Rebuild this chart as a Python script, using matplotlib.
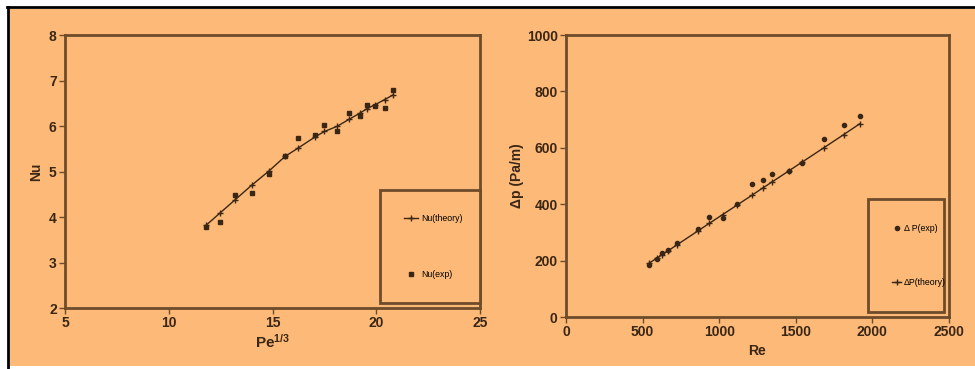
import matplotlib.pyplot as plt
from matplotlib.patches import Rectangle
from matplotlib.lines import Line2D

# Nu vs Pe^(1/3)
pe13 = [11.8, 12.45, 13.2, 14.0, 14.85, 15.6, 16.25, 17.05, 17.5, 18.1, 18.7, 19.2, 19.55, 19.95, 20.4, 20.8]
nu_theory = [3.82, 4.08, 4.38, 4.70, 5.02, 5.33, 5.52, 5.76, 5.88, 5.99, 6.15, 6.28, 6.38, 6.47, 6.58, 6.68]
nu_exp = [3.78, 3.90, 4.49, 4.53, 4.95, 5.34, 5.74, 5.80, 6.02, 5.90, 6.28, 6.22, 6.46, 6.44, 6.40, 6.80]

# pressure drop vs Re
re = [543, 591, 624, 667, 722, 863, 935, 1022, 1117, 1217, 1283, 1348, 1457, 1543, 1683, 1813, 1917]
dp_theory = [191, 208, 220, 235, 255, 306, 332, 363, 397, 433, 457, 480, 519, 550, 600, 647, 685]
dp_exp = [185, 205, 228, 236, 262, 312, 355, 352, 400, 471, 485, 506, 518, 547, 633, 680, 712]

bg = '#fdb978'
edge = '#6e4b2a'
ink = '#3a2614'

plt.rcParams['font.family'] = ['Liberation Sans', 'DejaVu Sans']
plt.rcParams['mathtext.fontset'] = 'custom'
plt.rcParams['mathtext.bf'] = 'Liberation Sans:bold'
plt.rcParams['mathtext.rm'] = 'Liberation Sans'

fig = plt.figure(figsize=(9.75, 3.69), dpi=100, facecolor='white')
fig.patches.append(Rectangle((10/975, 3/369), 1, 357/369, transform=fig.transFigure,
                             facecolor=bg, edgecolor='none', zorder=-5))
fig.lines.append(Line2D([7/975, 1], [362/369, 362/369], transform=fig.transFigure,
                        color='black', lw=2, zorder=-4))
fig.lines.append(Line2D([8/975, 8/975], [0, 362/369], transform=fig.transFigure,
                        color='black', lw=2, zorder=-4))

ax1 = fig.add_axes([0.0667, 0.1653, 0.4256, 0.7398])
ax2 = fig.add_axes([0.5805, 0.1409, 0.3928, 0.7642])

def style(ax):
    ax.set_facecolor(bg)
    for s in ax.spines.values():
        s.set_color(edge)
        s.set_linewidth(2)
    ax.tick_params(direction='out', length=4, width=1, color=edge, labelcolor=ink,
                   labelsize=10, pad=2)
    for lab in ax.get_xticklabels() + ax.get_yticklabels():
        lab.set_fontweight('bold')

ax1.plot(pe13, nu_theory, color=ink, lw=1, marker='+', ms=4, label='Nu(theory)')
ax1.plot(pe13, nu_exp, ls='none', color=ink, marker='s', ms=2.8, label='Nu(exp)')
ax1.set_xlim(5, 25)
ax1.set_ylim(2, 8)
ax1.set_xticks(range(5, 26, 5))
ax1.set_yticks(range(2, 9))
ax1.set_xlabel(r'$\mathbf{Pe^{1/3}}$', fontsize=11, color=ink, labelpad=2)
ax1.set_ylabel('Nu', fontsize=10, fontweight='bold', color=ink, labelpad=4)
style(ax1)
leg1 = ax1.legend(loc='lower right', bbox_to_anchor=(0.759, 0.018, 0.241, 0.414), mode='expand',
                  borderaxespad=0, fontsize=6.3, labelspacing=5.3, borderpad=2.8, handlelength=1.6,
                  handletextpad=0.3, fancybox=False, facecolor=bg, edgecolor=edge, framealpha=1)
leg1.get_frame().set_linewidth(2)

ax2.plot(re, dp_exp, ls='none', color=ink, marker='o', ms=3, label='Δ P(exp)')
ax2.plot(re, dp_theory, color=ink, lw=1, marker='+', ms=4, label='ΔP(theory)')
ax2.set_xlim(0, 2500)
ax2.set_ylim(0, 1000)
ax2.set_xticks(range(0, 2501, 500))
ax2.set_yticks(range(0, 1001, 200))
ax2.set_xlabel('Re', fontsize=10, fontweight='bold', color=ink, labelpad=3)
ax2.set_ylabel('Δp (Pa/m)', fontsize=10, fontweight='bold', color=ink, labelpad=2)
style(ax2)
leg2 = ax2.legend(loc='lower right', bbox_to_anchor=(0.788, 0.018, 0.198, 0.41), mode='expand',
                  borderaxespad=0, fontsize=6.3, labelspacing=5.2, borderpad=2.8, handlelength=1.0,
                  handletextpad=0.3, fancybox=False, facecolor=bg, edgecolor=edge, framealpha=1)
leg2.get_frame().set_linewidth(2)

fig.savefig('out.png', dpi=100, facecolor=fig.get_facecolor())
